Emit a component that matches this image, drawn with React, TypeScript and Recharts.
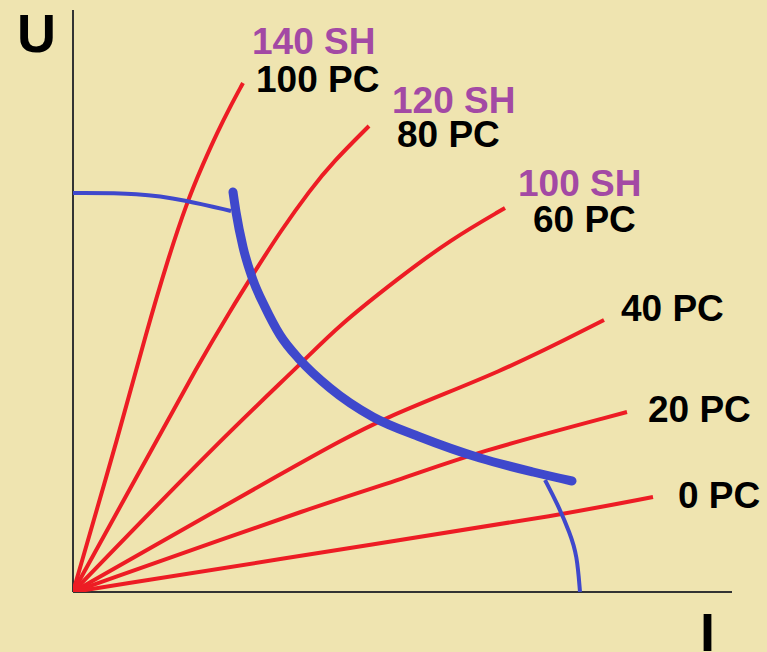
import { LineChart, Line, XAxis, YAxis, ReferenceLine } from 'recharts';

// rays: x = I, y = U (chart units, origin at axis corner)
const pc100 = [
  { x: 0, y: 0 }, { x: 47, y: 162 }, { x: 74, y: 262 }, { x: 94, y: 330 }, { x: 114, y: 390 },
  { x: 130, y: 428 }, { x: 144, y: 459 }, { x: 157, y: 485 }, { x: 170, y: 509 },
];
const pc80 = [
  { x: 0, y: 0 }, { x: 84, y: 152 }, { x: 124, y: 225 }, { x: 157, y: 281 }, { x: 184, y: 324 },
  { x: 207, y: 360 }, { x: 237, y: 402 }, { x: 260, y: 430 }, { x: 296, y: 466 },
];
const pc60 = [
  { x: 0, y: 0 }, { x: 147, y: 152 }, { x: 230, y: 230 }, { x: 264, y: 265 },
  { x: 327, y: 315 }, { x: 377, y: 352 }, { x: 432, y: 384 },
];
const pc40 = [
  { x: 0, y: 0 }, { x: 227, y: 129 }, { x: 310, y: 175 }, { x: 427, y: 219 }, { x: 531, y: 272 },
];
const pc20 = [
  { x: 0, y: 0 }, { x: 260, y: 92 }, { x: 327, y: 112 }, { x: 400, y: 139 }, { x: 554, y: 180 },
];
const pc0 = [
  { x: 0, y: 0 }, { x: 327, y: 52 }, { x: 487, y: 77 }, { x: 580, y: 95 },
];

// blue curves
const upperFrontier = [
  { x: 0, y: 399 }, { x: 67, y: 399 }, { x: 112, y: 392 }, { x: 158, y: 381 },
];
const mainCurve = [
  { x: 160, y: 400 }, { x: 163, y: 380 }, { x: 170, y: 345 }, { x: 180, y: 312 },
  { x: 192, y: 285 }, { x: 207, y: 257 }, { x: 227, y: 232 }, { x: 257, y: 204 },
  { x: 300, y: 175 }, { x: 347, y: 155 }, { x: 407, y: 134 }, { x: 460, y: 120 }, { x: 499, y: 111 },
];
const lowerFrontier = [
  { x: 472, y: 112 }, { x: 484, y: 89 }, { x: 497, y: 59 }, { x: 504, y: 37 }, { x: 507, y: 0 },
];

const rays = [pc100, pc80, pc60, pc40, pc20, pc0];

const shLabels = ['140 SH', '120 SH', '100 SH'];
const shPos = [[252, 54], [392, 113], [518, 196]];
const pcLabels = ['100 PC', '80 PC', '60 PC', '40 PC', '20 PC', '0 PC'];
const pcPos = [[256, 92], [397, 147], [533, 232], [621, 321], [648, 422], [678, 508]];

const RED = '#ED1C24';
const BLUE = '#3F48CC';
const PURPLE = '#A349A4';

export default function App() {
  return (
    <div style={{ position: 'fixed', left: 0, top: 0, width: 767, height: 652, background: '#EFE4B0', fontFamily: '"Liberation Sans", Arial, sans-serif' }}>
      <LineChart width={767} height={652} margin={{ top: 10, right: 35, bottom: 60, left: 73 }}>
        <XAxis type="number" dataKey="x" domain={[0, 659]} hide allowDataOverflow />
        <YAxis type="number" dataKey="y" domain={[0, 582]} hide allowDataOverflow />
        <ReferenceLine x={0} stroke="#333" strokeWidth={2} />
        <ReferenceLine y={0} stroke="#333" strokeWidth={2} />
        {rays.map((r, i) => (
          <Line key={i} data={r} dataKey="y" type="basis" stroke={RED} strokeWidth={4}
            dot={false} isAnimationActive={false} />
        ))}
        <Line data={upperFrontier} dataKey="y" type="basis" stroke={BLUE} strokeWidth={4}
          dot={false} isAnimationActive={false} />
        <Line data={lowerFrontier} dataKey="y" type="basis" stroke={BLUE} strokeWidth={4}
          dot={false} isAnimationActive={false} />
        <Line data={mainCurve} dataKey="y" type="monotone" stroke={BLUE} strokeWidth={9}
          strokeLinecap="round" dot={false} isAnimationActive={false} />
      </LineChart>
      <svg width={767} height={652} style={{ position: 'absolute', left: 0, top: 0, pointerEvents: 'none' }}>
        <g fontWeight="bold" fontSize={37}>
          {shLabels.map((t, i) => (
            <text key={t} x={shPos[i][0]} y={shPos[i][1]} fill={PURPLE}>{t}</text>
          ))}
          {pcLabels.map((t, i) => (
            <text key={t} x={pcPos[i][0]} y={pcPos[i][1]} fill="#000">{t}</text>
          ))}
        </g>
        <text x={17} y={52} fontSize={54} fontWeight="bold" fill="#000">U</text>
        <text x={700} y={651} fontSize={54} fontWeight="bold" fill="#000">I</text>
      </svg>
    </div>
  );
}
